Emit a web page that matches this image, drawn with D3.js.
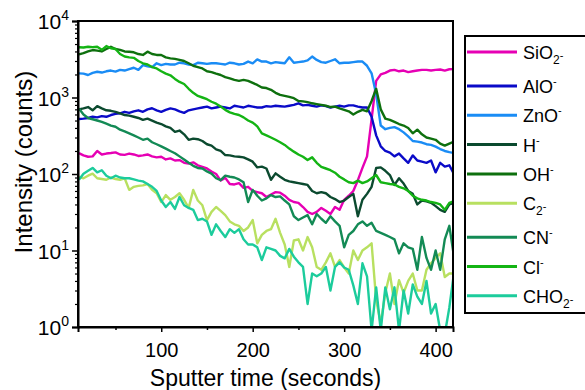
<!DOCTYPE html>
<html>
<head>
<meta charset="utf-8">
<script src="https://cdn.jsdelivr.net/npm/d3@7"></script>
<style>
  html, body { margin: 0; padding: 0; background: #fff; }
  svg { display: block; font-family: "Liberation Sans", Arial, sans-serif; }
</style>
</head>
<body>
<svg id="chart" width="585" height="390"></svg>
<script>
// ---------- data ----------
const time = [10,15,20,25,30,35,40,45,50,55,
  60,65,70,75,80,85,90,95,100,105,
  110,115,120,125,130,135,140,145,150,155,
  160,165,170,175,180,185,190,195,200,205,
  210,215,220,225,230,235,240,245,250,255,
  260,265,270,275,280,285,290,295,300,305,
  310,315,320,325,330,335,340,345,350,355,
  360,365,370,375,380,385,390,395,400,405,
  410,415,420];

const sio2 = [187,175,168,170,200,180,185,188,192,180,
  178,185,180,172,175,180,170,165,168,155,
  160,150,152,140,137,142,130,124,118,108,
  100,82,89,74,73,76,66,68,60,58,
  56,50,54,58,57,52,46,43,42,37,
  32,30,32,36,33,30,37,34,46,52,
  60,83,120,170,520,1650,2000,2100,2250,2300,
  2200,2250,2150,2200,2250,2300,2300,2250,2300,2320,
  2250,2340,2350];

const alo = [523,530,540,560,550,570,560,590,610,620,
  650,630,660,680,650,700,723,680,650,690,
  720,700,660,630,680,700,720,740,760,720,
  740,760,740,720,780,760,740,780,760,740,
  740,770,760,780,770,760,780,800,840,790,
  800,780,760,790,770,740,760,780,760,790,
  790,760,740,740,560,320,230,200,190,170,
  185,160,140,175,150,145,140,150,105,140,
  125,130,100];

const zno = [2070,2050,1970,2100,2170,2120,2200,2250,2180,2300,
  2250,2350,2450,2300,2650,2550,2500,2800,2650,2750,
  2700,2700,2850,2800,2700,2650,2850,2800,2750,2800,
  2800,2750,2700,2850,2800,2700,2750,2950,2800,3150,
  2950,2950,2800,2900,2850,2800,3350,2850,2900,2950,
  3050,3430,3100,2900,2850,3000,3160,2800,2850,2850,
  2900,2950,2950,2600,2070,1100,430,385,400,410,
  385,350,310,270,265,258,245,240,228,212,
  200,193,188];

const hyd = [700,720,750,680,770,720,680,670,650,620,
  590,580,560,540,510,530,500,470,450,420,
  400,355,370,330,280,290,285,270,245,235,
  210,200,177,175,170,168,165,155,145,122,
  125,118,84,102,92,84,80,78,76,74,
  72,60,56,58,56,50,47,43,45,50,
  55,28,46,55,68,120,122,110,97,72,
  88,75,60,55,40,45,44,42,38,34,
  32,40,42];

const oh = [3670,3800,4000,4170,4100,4000,4300,4600,4300,4200,
  4000,3970,3900,3700,3600,3970,3700,3600,3600,3350,
  3250,3200,3100,3000,2800,2600,2500,2400,2200,2150,
  2050,1970,1850,1780,1700,1650,1700,1650,1550,1460,
  1350,1330,1260,1150,1080,1050,1020,980,900,890,
  870,840,820,800,780,750,760,720,690,660,
  600,650,690,660,900,1300,700,530,510,480,
  450,430,400,340,380,330,300,290,280,250,
  235,250,265];

const c2 = [92,88,95,101,88,86,84,90,86,84,
  88,62,68,70,71,74,62,56,43,53,
  46,50,56,46,36,62,45,39,25,32,
  37,33,29,24,22,21,18,20,25,12.4,
  16,18,19,26,17,12,6.1,13.5,14,10,
  15,11,6.1,5.6,7,9.2,6.1,7.5,6,5,
  10,7.5,10,11,12.4,2.25,1.1,2.8,5,2.0,
  4.1,2.8,4,5,3,3,5.6,6.8,8,9.2,
  4.5,5,5];

const cn = [720,600,540,520,500,480,455,430,415,380,
  360,340,320,300,280,290,260,245,230,215,
  200,187,170,155,140,128,120,118,108,101,
  88,83,95,92,90,85,78,43,62,52,
  45,48,53,50,51,45,40,28,25,27,
  29,22,30,26,23,28,24,21,11,16,
  18,22,24,21,23,18,17,16,15,14,
  9.2,12.4,11,10.5,5.6,15,8,5.6,10,5.6,
  14,21,8.4];

const cl = [4530,4500,4600,4550,4600,4200,4700,4400,4300,3700,
  3430,3350,3300,3000,2800,2700,2500,2400,2200,2050,
  1950,1750,1600,1500,1300,1150,1050,1000,950,880,
  830,760,690,640,610,590,550,500,470,420,
  340,320,300,280,260,240,215,196,180,168,
  152,165,140,124,118,112,104,92,85,78,
  76,82,76,80,88,97,78,76,74,73,
  68,65,60,52,48,46,45,43,42,40,
  34,42,44];

const cho2 = [84,101,110,120,105,112,95,88,95,90,
  88,88,85,82,80,74,68,60,45,37,
  43,35,50,39,36,34,25,26,24,16,
  22,18,15,19,17,19,14,12,12,11,
  7.5,11,10.5,10,8.5,7.9,10.5,8.3,7,6.1,
  2.0,5,4.6,5,6.1,3.0,6.1,7,6,5.6,
  3.5,2.0,6.8,4.6,0.9,3.3,0.9,3.3,1.7,3.3,
  0.9,3,1.5,3.6,2.5,2,4,1.5,2,0.9,
  0.8,1.8,5];

const seriesNames = ["SiO2-", "AlO-", "ZnO-", "H-", "OH-", "C2-", "CN-", "Cl-", "CHO2-"];
const seriesValues = [sio2, alo, zno, hyd, oh, c2, cn, cl, cho2];
const seriesColors = ["#e600b4", "#0a0ac8", "#1a8cf5", "#0b4a2f", "#0e700e", "#b8e060", "#138a55", "#14b414", "#1ccc9c"];
// legend label pieces: [main, subscript, superscript]
const legendParts = [["SiO","2","-"],["AlO","","-"],["ZnO","","-"],["H","","-"],["OH","","-"],["C","2","-"],["CN","","-"],["Cl","","-"],["CHO","2","-"]];

const xTicks = [100, 200, 300, 400];
const xMinorTicks = [50, 150, 250, 350];
const yTickExps = [0, 1, 2, 3, 4];
const xTitle = "Sputter time (seconds)";
const yTitle = "Intensity (counts)";

// ---------- layout ----------
const svg = d3.select("#chart");
const L = 78, R = 453, T = 21, B = 327;

const x = d3.scaleLinear().domain([9, 419]).range([L, R]);
const y = d3.scaleLog().domain([1, 10000]).range([B, T]);

svg.append("defs").append("clipPath").attr("id", "clip")
  .append("rect").attr("x", L).attr("y", T).attr("width", R - L).attr("height", B - T);

// lines
const line = d3.line()
  .defined(d => d[1] != null && d[1] > 0)
  .x(d => x(d[0]))
  .y(d => y(d[1]));

const gLines = svg.append("g").attr("clip-path", "url(#clip)");
seriesValues.forEach((vals, i) => {
  gLines.append("path")
    .datum(time.map((t, j) => [t, vals[j]]))
    .attr("fill", "none")
    .attr("stroke", seriesColors[i])
    .attr("stroke-width", 2.4)
    .attr("stroke-linejoin", "round")
    .attr("d", line);
});

// frame
svg.append("rect")
  .attr("x", L).attr("y", T).attr("width", R - L).attr("height", B - T)
  .attr("fill", "none").attr("stroke", "#000").attr("stroke-width", 2);

// x axis
const xAxis = d3.axisBottom(x).tickValues(xTicks).tickSize(5).tickPadding(11).tickFormat(d3.format("d"));
const gx = svg.append("g").attr("transform", `translate(0,${B})`).call(xAxis);
gx.select(".domain").attr("stroke-width", 2);
gx.selectAll(".tick line").attr("stroke-width", 1.5);
gx.selectAll("text").attr("font-size", 20).attr("fill", "#000")
  .attr("font-family", "Liberation Sans, Arial, sans-serif");
const xMinor = d3.axisBottom(x).tickValues(xMinorTicks).tickSize(3).tickFormat("");
const gxm = svg.append("g").attr("transform", `translate(0,${B})`).call(xMinor);
gxm.select(".domain").remove();
gxm.selectAll(".tick line").attr("stroke-width", 1.5);

// y axis
const yMajor = yTickExps.map(e => Math.pow(10, e));
const yMinorVals = [];
yTickExps.slice(0, -1).forEach(e => { for (let k = 2; k <= 9; k++) yMinorVals.push(k * Math.pow(10, e)); });
const yAxis = d3.axisLeft(y).tickValues(yMajor).tickSize(6).tickFormat("");
const gy = svg.append("g").attr("transform", `translate(${L},0)`).call(yAxis);
gy.select(".domain").attr("stroke-width", 2);
gy.selectAll(".tick line").attr("stroke-width", 1.5);
const gym = svg.append("g").attr("transform", `translate(${L},0)`)
  .call(d3.axisLeft(y).tickValues(yMinorVals).tickSize(3).tickFormat(""));
gym.select(".domain").remove();
gym.selectAll(".tick line").attr("stroke-width", 1.2);

// y tick labels with superscripts
yTickExps.forEach(e => {
  const t = svg.append("text")
    .attr("x", 69).attr("y", y(Math.pow(10, e)) + 8)
    .attr("text-anchor", "end").attr("font-size", 21).attr("fill", "#000");
  t.append("tspan").text("10");
  t.append("tspan").attr("font-size", 14).attr("dy", -9).text(String(e));
});

// axis titles
svg.append("text")
  .attr("x", (L + R) / 2).attr("y", 386)
  .attr("text-anchor", "middle").attr("font-size", 23).attr("fill", "#000")
  .text(xTitle);
svg.append("text")
  .attr("transform", `translate(32,${(T + B) / 2 - 12}) rotate(-90)`)
  .attr("text-anchor", "middle").attr("font-size", 24).attr("fill", "#000")
  .text(yTitle);

// legend
const lg = svg.append("g");
lg.append("rect").attr("x", 465).attr("y", 36).attr("width", 130).attr("height", 277)
  .attr("fill", "#fff").attr("stroke", "#000").attr("stroke-width", 2);
let ly = 52;
legendParts.forEach((p, i) => {
  lg.append("line").attr("x1", 467).attr("x2", 517).attr("y1", ly).attr("y2", ly)
    .attr("stroke", seriesColors[i]).attr("stroke-width", 3);
  const t = lg.append("text").attr("x", 523).attr("y", ly + 7)
    .attr("font-size", 18).attr("fill", "#000");
  t.append("tspan").text(p[0]);
  if (p[1]) {
    t.append("tspan").attr("font-size", 12).attr("dy", 5).text(p[1]);
    t.append("tspan").attr("font-size", 11).attr("dy", -5).text(p[2]);
  } else {
    t.append("tspan").attr("font-size", 11).attr("dy", -8).text(p[2]);
  }
  ly += p[1] ? 34 : 29.3;
});
</script>
</body>
</html>
